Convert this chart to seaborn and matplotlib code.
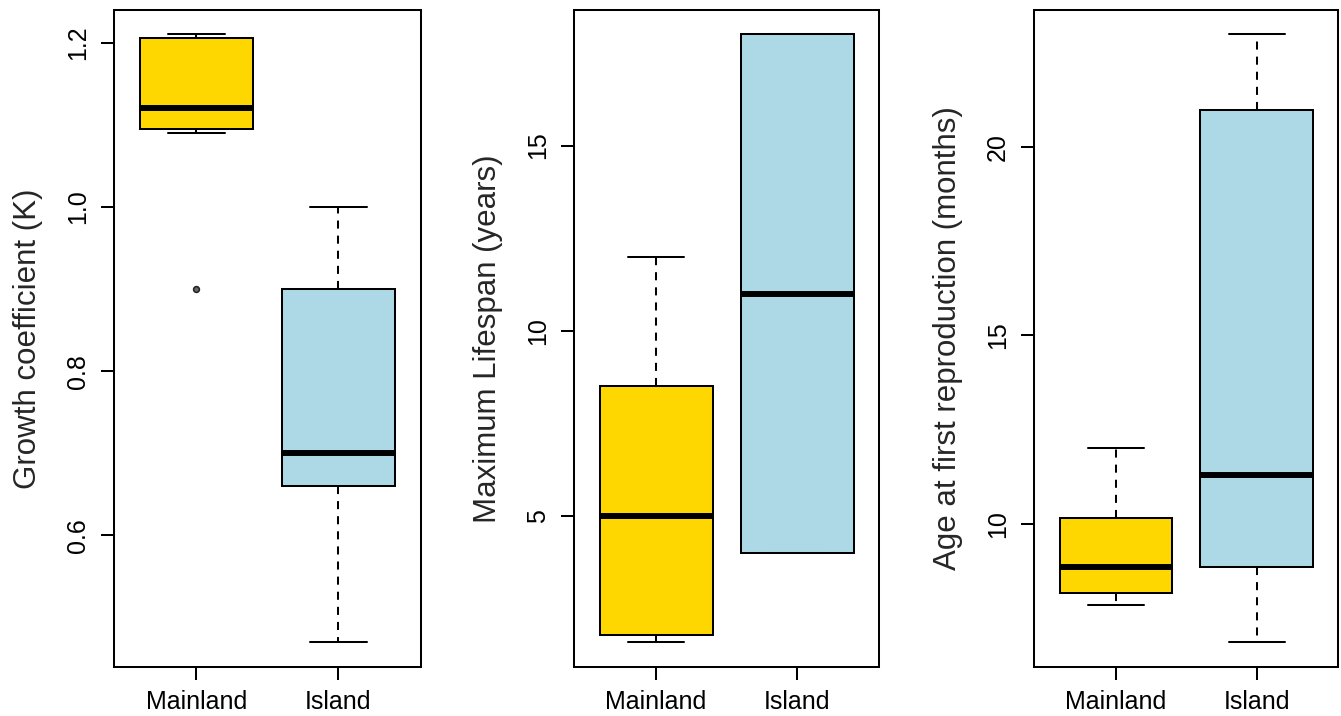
import numpy as np
import pandas as pd
import matplotlib
matplotlib.use("Agg")
import matplotlib.pyplot as plt
from matplotlib.ticker import MultipleLocator
import seaborn as sns

# Observations per habitat group for each life-history trait
groups = ["Mainland", "Island"]
growth_mainland = [0.90, 1.09, 1.095, 1.11, 1.12, 1.16, 1.205, 1.21, 1.21]
growth_island = [0.47, 0.66, 0.70, 0.90, 1.00]
lifespan_mainland = [1.6, 1.8, 5.0, 8.5, 12.0]
lifespan_island = [4.0, 4.0, 11.0, 18.0, 18.0]
afr_mainland = [7.85, 8.15, 8.85, 10.15, 12.0]
afr_island = [6.85, 8.85, 11.3, 21.0, 23.0]

ylabels = ["Growth coefficient (K)", "Maximum Lifespan (years)",
           "Age at first reproduction (months)"]
tick_steps = [0.2, 5, 5]
colors = {"Mainland": "#FFD700", "Island": "#ADD8E6"}

sns.set_style("ticks")
plt.rcParams["font.family"] = ["Liberation Sans", "DejaVu Sans"]

W, H = 1341, 716
fig = plt.figure(figsize=(W / 100, H / 100), dpi=100)

# panel frames in pixels: left, width
frames = [(114, 306.7), (574.3, 304.7), (1034.3, 304.0)]
top_px, bottom_px = 10, 666.5

lw = 1.45
panels = [
    (growth_mainland, growth_island),
    (lifespan_mainland, lifespan_island),
    (afr_mainland, afr_island),
]

for (left, width), (mainland, island), ylabel, step in zip(frames, panels, ylabels, tick_steps):
    ax = fig.add_axes([left / W, 1 - bottom_px / H, width / W, (bottom_px - top_px) / H])
    df = pd.DataFrame({
        "group": ["Mainland"] * len(mainland) + ["Island"] * len(island),
        "value": list(mainland) + list(island),
    })
    sns.boxplot(
        data=df, x="group", y="value", hue="group", order=groups, hue_order=groups,
        palette=colors, saturation=1, width=0.8, whis=1.5, linewidth=lw,
        linecolor="black", legend=False, ax=ax,
        medianprops=dict(linewidth=4.3, color="black"),
        whiskerprops=dict(linestyle=(0, (4, 3.5)), linewidth=lw, color="black"),
        capprops=dict(linestyle="-", linewidth=lw, color="black"),
        flierprops=dict(marker="o", markersize=4.2, markerfacecolor="#666666",
                        markeredgecolor="#222222", markeredgewidth=1.1),
    )
    vals = np.array(df["value"])
    lo, hi = vals.min(), vals.max()
    pad = 0.04 * (hi - lo)
    ax.set_ylim(lo - pad, hi + pad)
    ax.set_xlim(-0.58, 1.58)
    ax.yaxis.set_major_locator(MultipleLocator(step))
    ax.set_xlabel("")
    ax.set_ylabel(ylabel, fontsize=22.5, va="center")
    ax.yaxis.set_label_coords(-86 / width, 0.5)
    for sp in ax.spines.values():
        sp.set_visible(True)
        sp.set_linewidth(lw)
        sp.set_color("black")
    ax.tick_params(axis="both", direction="out", length=9.4, width=lw,
                   labelsize=18, colors="black")
    ax.tick_params(axis="x", pad=7.5)
    ax.tick_params(axis="y", pad=8, labelrotation=90)
    plt.setp(ax.get_yticklabels(), va="center")

fig.savefig("out.png", dpi=100)
